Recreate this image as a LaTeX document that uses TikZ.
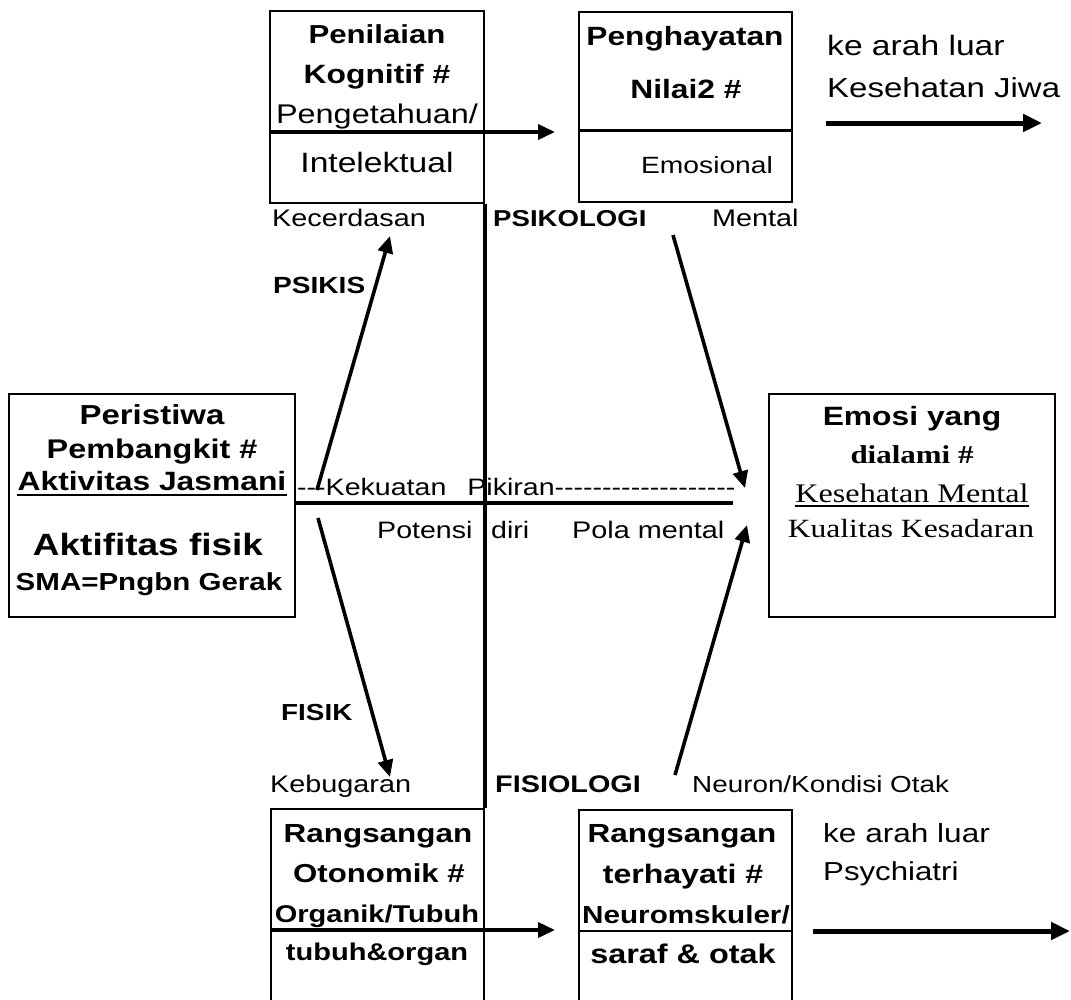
\documentclass[tikz,border=0pt]{standalone}
\usepackage{fontspec}
\setmainfont{Liberation Sans}[FakeStretch=1.2]
\newfontfamily\tnr{Liberation Serif}[FakeStretch=1.2]
\usetikzlibrary{arrows.meta}
\newcommand{\fz}[1]{\fontsize{#1}{#1}\selectfont}
\newcommand{\hy}{-\kern0pt}
\tikzset{
  box/.style={draw, line width=2pt, inner sep=0pt},
  hd/.style={inner sep=0pt, anchor=base, font=\bfseries\fz{26.5}},
  lab/.style={inner sep=0pt, anchor=base west, font=\fz{24}},
  arr/.style={line width=3.6pt, -{Triangle[length=17pt,width=15pt]}},
  fat/.style={line width=5pt, -{Triangle[length=19pt,width=17pt]}}
}

\begin{document}
\begin{tikzpicture}[x=1pt, y=-1pt]
  \useasboundingbox (0,0) rectangle (1071,999);
  \clip (0,0) rectangle (1071,999);

  % boxes
  \node[box, minimum width=214pt, minimum height=192pt] (kog) at (377,107) {};
  \node[box, minimum width=213pt, minimum height=190pt] (nil) at (685.5,107) {};
  \node[box, minimum width=286pt, minimum height=223pt] (pem) at (152,505.5) {};
  \node[box, minimum width=286pt, minimum height=223pt] (emo) at (912,505.5) {};
  \node[box, minimum width=213pt, minimum height=201pt] (oto) at (377.5,909.5) {};
  \node[box, minimum width=213pt, minimum height=200pt] (hay) at (685.5,910) {};

  % texts in the top boxes
  \node[hd, font=\bfseries\fz{26}] (kog1) at (377,43) {Penilaian};
  \node[hd] (kog2) at (377,83) {Kognitif \#};
  \node[hd, font=\fz{27}] (kog3) at (377,123) {Pengetahuan/};
  \node[hd, font=\fz{28}] (kog4) at (377,172) {Intelektual};
  \node[hd, font=\bfseries\fz{26.4}] (nil1) at (685,45) {Penghayatan};
  \node[hd] (nil2) at (686,98) {Nilai2 \#};
  \node[hd, font=\fz{23.5}] (nil3) at (707,173) {Emosional};
  \draw[line width=3pt] (nil.west |- 0,130) -- (nil.east |- 0,130);

  \node[lab, font=\fz{28}] (luar1) at (827,55) {ke arah luar};
  \node[lab, font=\fz{27.5}] (jiwa) at (827,97) {Kesehatan Jiwa};

  \node[lab] (cerdas) at (272,226) {Kecerdasan};
  \node[lab, font=\bfseries\fz{23}] (psiko) at (493,226) {PSIKOLOGI};
  \node[lab] (mental) at (712,226) {Mental};
  \node[lab, font=\bfseries\fz{23.4}] (psikis) at (273,293) {PSIKIS};

  % left box
  \node[hd, font=\bfseries\fz{27.5}] (pem1) at (152,424) {Peristiwa};
  \node[hd, font=\bfseries\fz{27}] (pem2) at (152,458) {Pembangkit \#};
  \node[hd] (pem3) at (152,490) {Aktivitas Jasmani};
  \draw[line width=2.8pt] ([yshift=-5pt]pem3.base west) -- ([yshift=-5pt]pem3.base east);
  \node[hd, font=\bfseries\fz{30.8}] (pem4) at (148,555) {Aktifitas fisik};
  \node[hd, font=\bfseries\fz{24.6}] (pem5) at (149,590) {SMA=Pngbn Gerak};

  % right box
  \node[hd] (emo1) at (912,425) {Emosi yang};
  \node[hd, font=\tnr\bfseries\fz{25.8}] (emo2) at (912,463) {dialami \#};
  \node[hd, font=\tnr\fz{26.8}] (emo3) at (912,502) {Kesehatan Mental};
  \draw[line width=1.6pt] ([yshift=-4pt]emo3.base west) -- ([yshift=-4pt]emo3.base east);
  \node[hd, font=\tnr\fz{26.3}] (emo4) at (911,537) {Kualitas Kesadaran};

  % middle line
  \node[lab, font=\fz{23.8}] (pikir) at (297,495) {\hy\hy\hy Kekuatan\hspace{21pt}Pikiran\hy\hy\hy\hy\hy\hy\hy\hy\hy\hy\hy\hy\hy\hy\hy\hy\hy\hy\hy};
  \node[lab, font=\fz{23.8}] (potensi) at (377,538) {Potensi};
  \node[lab, font=\fz{23.8}] (diri) at (491,538) {diri};
  \node[lab] (pola) at (572,538) {Pola mental};
  \coordinate (mid) at (733,503);
  \draw[line width=3.2pt] (pem.east |- mid) -- (mid);
  \draw[line width=3.6pt] (kog.south east) -- (oto.north east);

  % bottom labels
  \node[lab, font=\bfseries\fz{23.2}] (fisik) at (281,720) {FISIK};
  \node[lab] (bugar) at (270,792) {Kebugaran};
  \node[lab, font=\bfseries\fz{24}] (fisio) at (495,792) {FISIOLOGI};
  \node[lab, font=\fz{23.2}] (neuron) at (692,792) {Neuron/Kondisi Otak};

  % bottom boxes
  \node[hd, font=\bfseries\fz{26.2}] (oto1) at (378,842) {Rangsangan};
  \node[hd, font=\bfseries\fz{26}] (oto2) at (379,882) {Otonomik \#};
  \node[hd, font=\bfseries\fz{24.2}] (oto3) at (377,922) {Organik/Tubuh};
  \node[hd, font=\bfseries\fz{24.2}] (oto4) at (377,960) {tubuh\&organ};
  \node[hd, font=\bfseries\fz{26.2}] (hay1) at (682,842) {Rangsangan};
  \node[hd, font=\bfseries\fz{26.7}] (hay2) at (683,883) {terhayati \#};
  \node[hd, font=\bfseries\fz{24.7}] (hay3) at (686,923) {Neuromskuler/};
  \node[hd, font=\bfseries\fz{27}] (hay4) at (683,963) {saraf \& otak};
  \draw[line width=2.2pt] (hay.west |- 0,931) -- (hay.east |- 0,931);
  \node[lab, font=\fz{26.3}] (luar2) at (823,842) {ke arah luar};
  \node[lab, font=\fz{26}] (psych) at (823,880) {Psychiatri};

  % arrows
  \coordinate (kogtip) at (555,132);
  \coordinate (ototip) at (555,930);
  \draw[arr] (kog.west |- kogtip) -- (kogtip);
  \draw[arr] (oto.west |- ototip) -- (ototip);

  \coordinate (psA) at (317,490);  \coordinate (psB) at (390,236);
  \coordinate (pkA) at (673,235);  \coordinate (pkB) at (745,488);
  \coordinate (fsA) at (318,518);  \coordinate (fsB) at (390,777);
  \coordinate (fgA) at (675,775);  \coordinate (fgB) at (747,525);
  \draw[arr] (psA) -- (psB);
  \draw[arr] (pkA) -- (pkB);
  \draw[arr] (fsA) -- (fsB);
  \draw[arr] (fgA) -- (fgB);

  \coordinate (jwA) at (826,123);  \coordinate (jwB) at (1042,123);
  \coordinate (pyA) at (813,931);  \coordinate (pyB) at (1070,931);
  \draw[fat] (jwA) -- (jwB);
  \draw[fat] (pyA) -- (pyB);
\end{tikzpicture}
\end{document}
